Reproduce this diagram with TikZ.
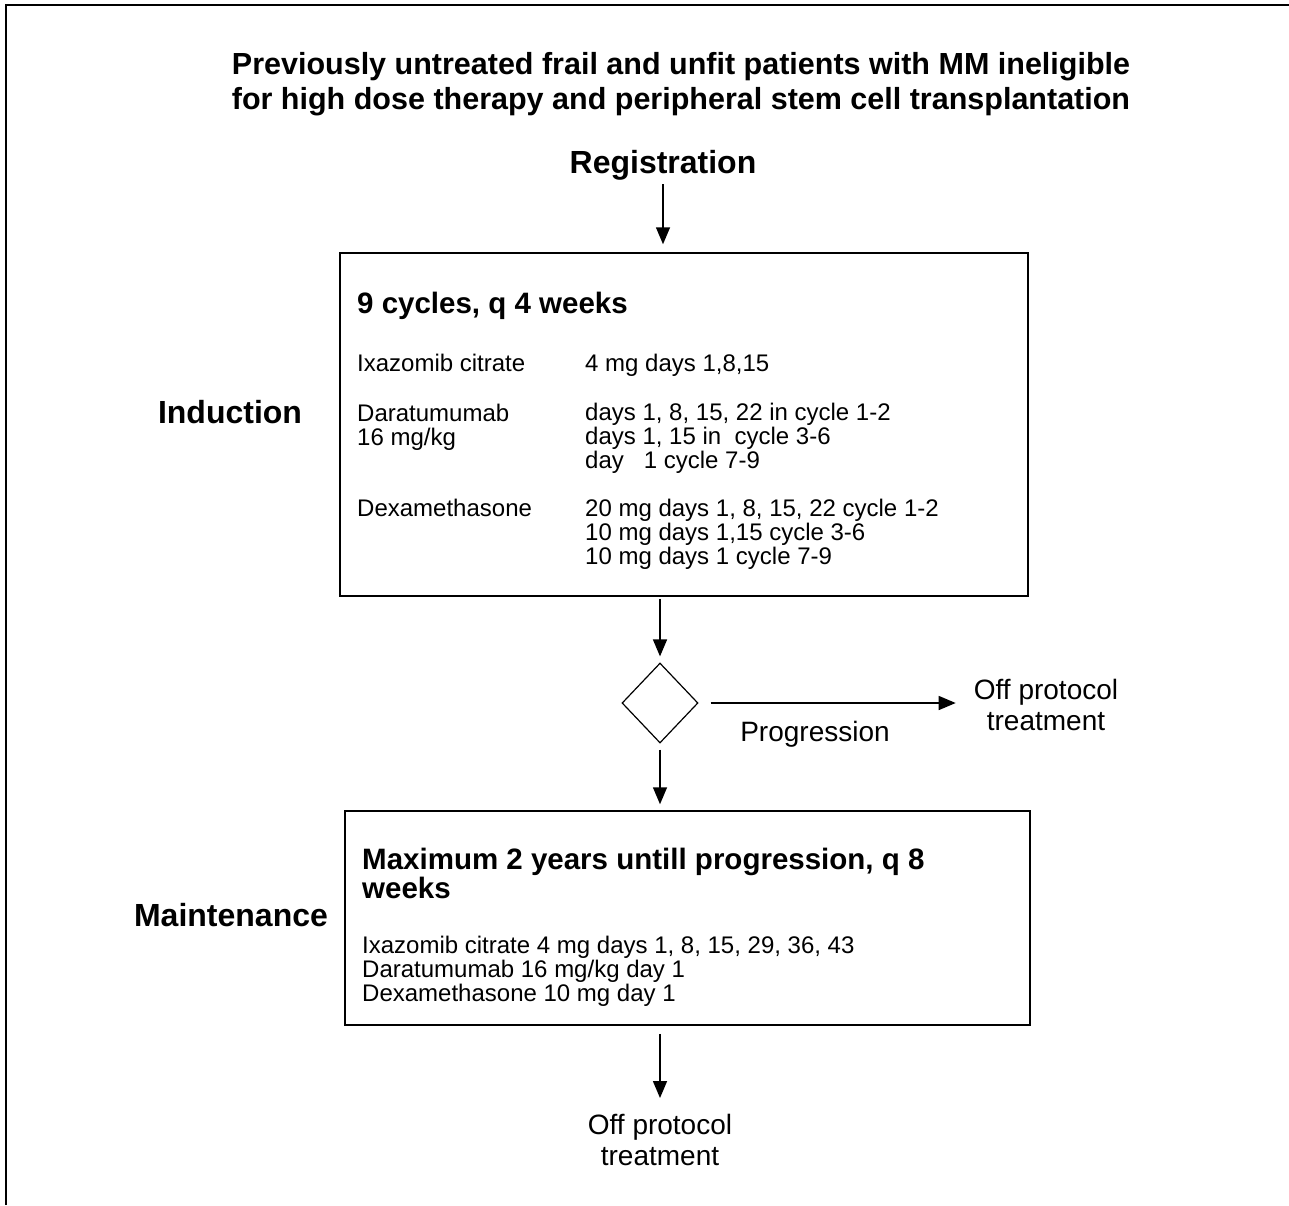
\documentclass[tikz,border=0pt]{standalone}
\usepackage{fontspec}
\setmainfont{Liberation Sans}
\usetikzlibrary{arrows.meta,shapes.geometric,positioning}

\begin{document}
\begin{tikzpicture}[
    x=1pt, y=-1pt,
    box/.style={rectangle, draw, line width=1.5pt},
    arrow/.style={-{Triangle[length=17pt,width=14pt]}, line width=1.5pt},
    txt/.style={inner sep=0pt, align=left, anchor=base west, font=\fontsize{24}{24}\selectfont},
    head/.style={inner sep=0pt, align=left, anchor=base west, font=\fontsize{29.5}{29}\selectfont\bfseries},
    stage/.style={inner sep=0pt, font=\fontsize{32}{33}\selectfont\bfseries},
    note/.style={inner sep=0pt, align=center, font=\fontsize{28}{31}\selectfont}
]
\useasboundingbox (0,0) rectangle (1289,1205);
\draw[line width=1.2pt] (6,1205) -- (6,5) -- (1289,5);

\node[inner sep=0pt, align=center, font=\fontsize{30.5}{35}\selectfont\bfseries] (title) at (681,84)
    {Previously untreated frail and unfit patients with MM ineligible\\
     for high dose therapy and peripheral stem cell transplantation};
\node[stage] (reg) at (663,165) {Registration};

% induction
\node[box, minimum width=688pt, minimum height=343pt] (ind) at (684,424.5) {};
\node[stage] (indlbl) at (230,412) {Induction};
\node[head] (indhd) at (357,313) {9 cycles, q 4 weeks};
\node[txt] (ixa) at (357,371.5) {Ixazomib citrate};
\node[txt] (ixadose) at (585,371.5) {4 mg days 1,8,15};
\node[txt] (dara) at (357,445.5) {Daratumumab\\16 mg/kg};
\node[txt] (daradose) at (585,468.5) {days 1, 8, 15, 22 in cycle 1-2\\
    days 1, 15 in\ \ cycle 3-6\\day\ \ \ 1 cycle 7-9};
\node[txt] (dexa) at (357,516.5) {Dexamethasone};
\node[txt] (dexadose) at (585,564.5) {20 mg days 1, 8, 15, 22 cycle 1-2\\
    10 mg days 1,15 cycle 3-6\\10 mg days 1 cycle 7-9};

% decision
\node[diamond, draw, line width=1.2pt, inner sep=0pt, minimum width=76pt, minimum height=80pt] (dec) at (660,703) {};
\node[note] (off) at (1046,705) {Off protocol\\treatment};
\node[note] (prog) at (815,734) {Progression};

% maintenance
\node[box, minimum width=685pt, minimum height=214pt] (main) at (687.5,918) {};
\node[stage] (mainlbl) at (231,915) {Maintenance};
\node[head] (mainhd) at (362,898) {Maximum 2 years untill progression, q 8\\weeks};
\node[txt] (mainrx) at (362,1001.5) {Ixazomib citrate 4 mg days 1, 8, 15, 29, 36, 43\\
    Daratumumab 16 mg/kg day 1\\Dexamethasone 10 mg day 1};

\node[note] (end) at (660,1140) {Off protocol\\treatment};

\draw[arrow, shorten <=4pt, shorten >=8pt] (reg) -- (reg |- ind.north);
\draw[arrow, shorten <=2pt, shorten >=6pt] (ind.south -| dec) -- (dec.north);
\draw[arrow, shorten <=6pt, shorten >=6pt] (dec.south) -- (dec |- main.north);
\draw[arrow, shorten <=12pt, shorten >=18pt] (dec.east) -- (dec.east -| off.west);
\draw[arrow, shorten <=8pt, shorten >=16pt] (main.south -| end) -- (end.north);

\end{tikzpicture}
\end{document}
